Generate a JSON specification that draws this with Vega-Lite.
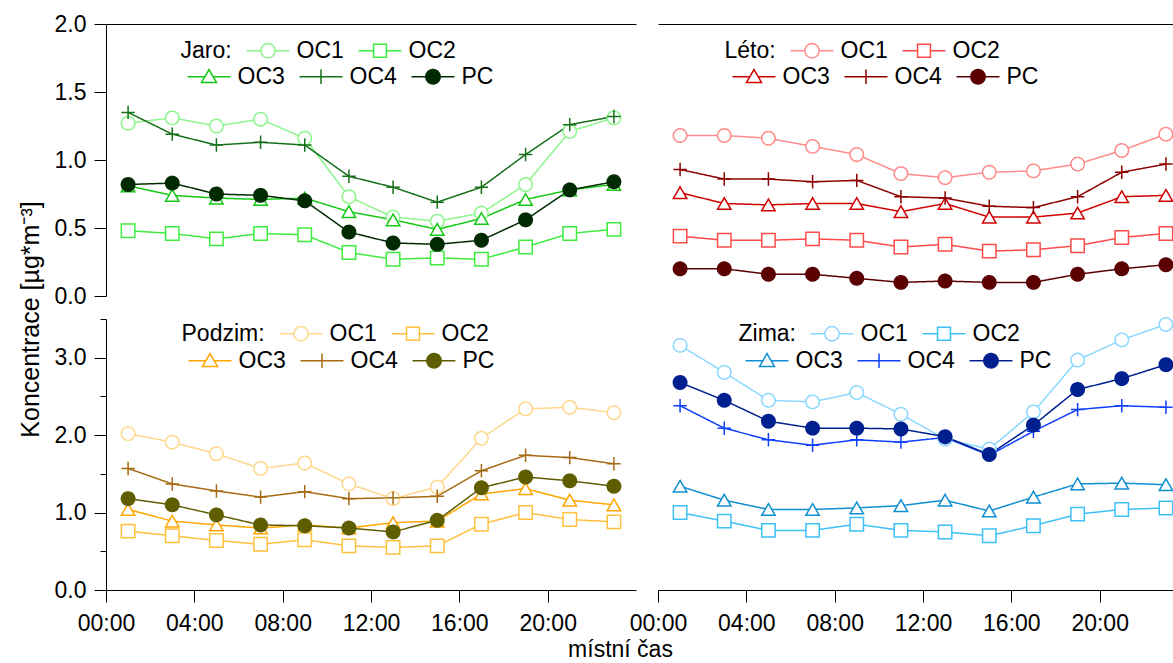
{
 "$schema": "https://vega.github.io/schema/vega-lite/v6.json",
 "padding": {"left": 18, "top": 13, "right": 0, "bottom": 0},
 "background": "white",
 "datasets": {
  "jaro": [
   {"s":"OC1","h":1,"v":1.27},{"s":"OC1","h":3,"v":1.31},{"s":"OC1","h":5,"v":1.25},{"s":"OC1","h":7,"v":1.30},{"s":"OC1","h":9,"v":1.16},{"s":"OC1","h":11,"v":0.73},{"s":"OC1","h":13,"v":0.58},{"s":"OC1","h":15,"v":0.55},{"s":"OC1","h":17,"v":0.61},{"s":"OC1","h":19,"v":0.82},{"s":"OC1","h":21,"v":1.21},{"s":"OC1","h":23,"v":1.31},
   {"s":"OC2","h":1,"v":0.48},{"s":"OC2","h":3,"v":0.46},{"s":"OC2","h":5,"v":0.42},{"s":"OC2","h":7,"v":0.46},{"s":"OC2","h":9,"v":0.45},{"s":"OC2","h":11,"v":0.32},{"s":"OC2","h":13,"v":0.27},{"s":"OC2","h":15,"v":0.28},{"s":"OC2","h":17,"v":0.27},{"s":"OC2","h":19,"v":0.36},{"s":"OC2","h":21,"v":0.46},{"s":"OC2","h":23,"v":0.49},
   {"s":"OC3","h":1,"v":0.81},{"s":"OC3","h":3,"v":0.74},{"s":"OC3","h":5,"v":0.72},{"s":"OC3","h":7,"v":0.71},{"s":"OC3","h":9,"v":0.72},{"s":"OC3","h":11,"v":0.62},{"s":"OC3","h":13,"v":0.56},{"s":"OC3","h":15,"v":0.49},{"s":"OC3","h":17,"v":0.57},{"s":"OC3","h":19,"v":0.71},{"s":"OC3","h":21,"v":0.78},{"s":"OC3","h":23,"v":0.82},
   {"s":"OC4","h":1,"v":1.35},{"s":"OC4","h":3,"v":1.19},{"s":"OC4","h":5,"v":1.11},{"s":"OC4","h":7,"v":1.13},{"s":"OC4","h":9,"v":1.11},{"s":"OC4","h":11,"v":0.88},{"s":"OC4","h":13,"v":0.80},{"s":"OC4","h":15,"v":0.69},{"s":"OC4","h":17,"v":0.80},{"s":"OC4","h":19,"v":1.04},{"s":"OC4","h":21,"v":1.26},{"s":"OC4","h":23,"v":1.32},
   {"s":"PC","h":1,"v":0.82},{"s":"PC","h":3,"v":0.83},{"s":"PC","h":5,"v":0.75},{"s":"PC","h":7,"v":0.74},{"s":"PC","h":9,"v":0.70},{"s":"PC","h":11,"v":0.47},{"s":"PC","h":13,"v":0.39},{"s":"PC","h":15,"v":0.38},{"s":"PC","h":17,"v":0.41},{"s":"PC","h":19,"v":0.56},{"s":"PC","h":21,"v":0.78},{"s":"PC","h":23,"v":0.84}
  ],
  "leto": [
   {"s":"OC1","h":1,"v":1.18},{"s":"OC1","h":3,"v":1.18},{"s":"OC1","h":5,"v":1.16},{"s":"OC1","h":7,"v":1.10},{"s":"OC1","h":9,"v":1.04},{"s":"OC1","h":11,"v":0.90},{"s":"OC1","h":13,"v":0.87},{"s":"OC1","h":15,"v":0.91},{"s":"OC1","h":17,"v":0.92},{"s":"OC1","h":19,"v":0.97},{"s":"OC1","h":21,"v":1.07},{"s":"OC1","h":23,"v":1.19},
   {"s":"OC2","h":1,"v":0.44},{"s":"OC2","h":3,"v":0.41},{"s":"OC2","h":5,"v":0.41},{"s":"OC2","h":7,"v":0.42},{"s":"OC2","h":9,"v":0.41},{"s":"OC2","h":11,"v":0.36},{"s":"OC2","h":13,"v":0.38},{"s":"OC2","h":15,"v":0.33},{"s":"OC2","h":17,"v":0.34},{"s":"OC2","h":19,"v":0.37},{"s":"OC2","h":21,"v":0.43},{"s":"OC2","h":23,"v":0.46},
   {"s":"OC3","h":1,"v":0.76},{"s":"OC3","h":3,"v":0.68},{"s":"OC3","h":5,"v":0.67},{"s":"OC3","h":7,"v":0.68},{"s":"OC3","h":9,"v":0.68},{"s":"OC3","h":11,"v":0.62},{"s":"OC3","h":13,"v":0.68},{"s":"OC3","h":15,"v":0.58},{"s":"OC3","h":17,"v":0.58},{"s":"OC3","h":19,"v":0.61},{"s":"OC3","h":21,"v":0.73},{"s":"OC3","h":23,"v":0.74},
   {"s":"OC4","h":1,"v":0.93},{"s":"OC4","h":3,"v":0.86},{"s":"OC4","h":5,"v":0.86},{"s":"OC4","h":7,"v":0.84},{"s":"OC4","h":9,"v":0.85},{"s":"OC4","h":11,"v":0.73},{"s":"OC4","h":13,"v":0.72},{"s":"OC4","h":15,"v":0.66},{"s":"OC4","h":17,"v":0.65},{"s":"OC4","h":19,"v":0.73},{"s":"OC4","h":21,"v":0.91},{"s":"OC4","h":23,"v":0.97},
   {"s":"PC","h":1,"v":0.20},{"s":"PC","h":3,"v":0.20},{"s":"PC","h":5,"v":0.16},{"s":"PC","h":7,"v":0.16},{"s":"PC","h":9,"v":0.13},{"s":"PC","h":11,"v":0.10},{"s":"PC","h":13,"v":0.11},{"s":"PC","h":15,"v":0.10},{"s":"PC","h":17,"v":0.10},{"s":"PC","h":19,"v":0.16},{"s":"PC","h":21,"v":0.20},{"s":"PC","h":23,"v":0.23}
  ],
  "podzim": [
   {"s":"OC1","h":1,"v":2.02},{"s":"OC1","h":3,"v":1.91},{"s":"OC1","h":5,"v":1.76},{"s":"OC1","h":7,"v":1.57},{"s":"OC1","h":9,"v":1.64},{"s":"OC1","h":11,"v":1.37},{"s":"OC1","h":13,"v":1.18},{"s":"OC1","h":15,"v":1.33},{"s":"OC1","h":17,"v":1.96},{"s":"OC1","h":19,"v":2.34},{"s":"OC1","h":21,"v":2.36},{"s":"OC1","h":23,"v":2.29},
   {"s":"OC2","h":1,"v":0.76},{"s":"OC2","h":3,"v":0.70},{"s":"OC2","h":5,"v":0.64},{"s":"OC2","h":7,"v":0.59},{"s":"OC2","h":9,"v":0.65},{"s":"OC2","h":11,"v":0.57},{"s":"OC2","h":13,"v":0.55},{"s":"OC2","h":15,"v":0.57},{"s":"OC2","h":17,"v":0.85},{"s":"OC2","h":19,"v":1.00},{"s":"OC2","h":21,"v":0.91},{"s":"OC2","h":23,"v":0.88},
   {"s":"OC3","h":1,"v":1.04},{"s":"OC3","h":3,"v":0.89},{"s":"OC3","h":5,"v":0.84},{"s":"OC3","h":7,"v":0.80},{"s":"OC3","h":9,"v":0.84},{"s":"OC3","h":11,"v":0.80},{"s":"OC3","h":13,"v":0.87},{"s":"OC3","h":15,"v":0.89},{"s":"OC3","h":17,"v":1.24},{"s":"OC3","h":19,"v":1.31},{"s":"OC3","h":21,"v":1.16},{"s":"OC3","h":23,"v":1.10},
   {"s":"OC4","h":1,"v":1.57},{"s":"OC4","h":3,"v":1.37},{"s":"OC4","h":5,"v":1.28},{"s":"OC4","h":7,"v":1.20},{"s":"OC4","h":9,"v":1.27},{"s":"OC4","h":11,"v":1.18},{"s":"OC4","h":13,"v":1.19},{"s":"OC4","h":15,"v":1.21},{"s":"OC4","h":17,"v":1.54},{"s":"OC4","h":19,"v":1.74},{"s":"OC4","h":21,"v":1.71},{"s":"OC4","h":23,"v":1.63},
   {"s":"PC","h":1,"v":1.18},{"s":"PC","h":3,"v":1.10},{"s":"PC","h":5,"v":0.97},{"s":"PC","h":7,"v":0.84},{"s":"PC","h":9,"v":0.83},{"s":"PC","h":11,"v":0.80},{"s":"PC","h":13,"v":0.75},{"s":"PC","h":15,"v":0.90},{"s":"PC","h":17,"v":1.32},{"s":"PC","h":19,"v":1.46},{"s":"PC","h":21,"v":1.41},{"s":"PC","h":23,"v":1.34}
  ],
  "zima": [
   {"s":"OC1","h":1,"v":3.16},{"s":"OC1","h":3,"v":2.81},{"s":"OC1","h":5,"v":2.45},{"s":"OC1","h":7,"v":2.43},{"s":"OC1","h":9,"v":2.55},{"s":"OC1","h":11,"v":2.27},{"s":"OC1","h":13,"v":1.95},{"s":"OC1","h":15,"v":1.82},{"s":"OC1","h":17,"v":2.30},{"s":"OC1","h":19,"v":2.97},{"s":"OC1","h":21,"v":3.23},{"s":"OC1","h":23,"v":3.43},
   {"s":"OC2","h":1,"v":1.00},{"s":"OC2","h":3,"v":0.89},{"s":"OC2","h":5,"v":0.77},{"s":"OC2","h":7,"v":0.77},{"s":"OC2","h":9,"v":0.85},{"s":"OC2","h":11,"v":0.77},{"s":"OC2","h":13,"v":0.75},{"s":"OC2","h":15,"v":0.70},{"s":"OC2","h":17,"v":0.83},{"s":"OC2","h":19,"v":0.98},{"s":"OC2","h":21,"v":1.04},{"s":"OC2","h":23,"v":1.06},
   {"s":"OC3","h":1,"v":1.34},{"s":"OC3","h":3,"v":1.16},{"s":"OC3","h":5,"v":1.04},{"s":"OC3","h":7,"v":1.04},{"s":"OC3","h":9,"v":1.06},{"s":"OC3","h":11,"v":1.09},{"s":"OC3","h":13,"v":1.16},{"s":"OC3","h":15,"v":1.02},{"s":"OC3","h":17,"v":1.20},{"s":"OC3","h":19,"v":1.37},{"s":"OC3","h":21,"v":1.38},{"s":"OC3","h":23,"v":1.36},
   {"s":"OC4","h":1,"v":2.38},{"s":"OC4","h":3,"v":2.09},{"s":"OC4","h":5,"v":1.94},{"s":"OC4","h":7,"v":1.87},{"s":"OC4","h":9,"v":1.94},{"s":"OC4","h":11,"v":1.91},{"s":"OC4","h":13,"v":1.97},{"s":"OC4","h":15,"v":1.74},{"s":"OC4","h":17,"v":2.05},{"s":"OC4","h":19,"v":2.33},{"s":"OC4","h":21,"v":2.38},{"s":"OC4","h":23,"v":2.36},
   {"s":"PC","h":1,"v":2.68},{"s":"PC","h":3,"v":2.45},{"s":"PC","h":5,"v":2.18},{"s":"PC","h":7,"v":2.09},{"s":"PC","h":9,"v":2.09},{"s":"PC","h":11,"v":2.08},{"s":"PC","h":13,"v":1.98},{"s":"PC","h":15,"v":1.75},{"s":"PC","h":17,"v":2.13},{"s":"PC","h":19,"v":2.59},{"s":"PC","h":21,"v":2.73},{"s":"PC","h":23,"v":2.91}
  ]
 },
 "columns": 2,
 "spacing": {"row": 23, "column": 22},
 "bounds": "flush",
 "concat": [
  {
   "width": 530, "height": 272,
   "data": {"name": "jaro"},
   "encoding": {
    "x": {"field": "h", "type": "quantitative", "scale": {"domain": [0, 24], "nice": false, "zero": false}, "axis": {"orient": "top", "ticks": false, "labels": false, "title": null, "domain": true}},
    "y": {"field": "v", "type": "quantitative", "scale": {"domain": [0, 2], "nice": false}, "axis": {"values": [0, 0.5, 1, 1.5, 2], "format": ".1f", "labelPadding": 8, "title": null}},
    "color": {"field": "s", "type": "nominal",
     "scale": {"domain": ["Jaro:", "OC1", "OC2", "OC3", "OC4", "PC"], "range": ["white", "#8cf58c", "#3ded3d", "#14c814", "#16701a", "#002a00"]},
     "legend": {"orient": "none", "legendX": 86, "legendY": 15, "direction": "horizontal", "columns": 3, "title": null, "values": ["Jaro:", "OC1", "OC2"],
      "symbolSize": 205, "symbolOffset": 2.5, "labelOffset": 17, "columnPadding": 11, "symbolFillColor": "white", "symbolStrokeWidth": 1.5,
      "labelFontSize": 23, "labelFont": "Liberation Sans", "labelColor": "black",
      "encode": {
       "symbols": {"update": {
        "shape": {"signal": "datum.value==='OC1'?'M-3,0H-1M1,0H3M1,0A1,1,0,1,1,-1,0A1,1,0,1,1,1,0Z':datum.value==='OC2'?'M-3,0H-0.9M0.9,0H3M-0.9,-0.9H0.9V0.9H-0.9Z':'M0,0'"},
        "size": {"signal": "datum.value==='Jaro:'?0:205"}
       }},
       "labels": {"update": {"dx": {"signal": "datum.value==='Jaro:'?-54:0"}}}
      }
     }
    },
    "strokeDash": {"field": "s", "type": "nominal",
     "scale": {"domain": ["OC3", "OC4", "PC", "OC1", "OC2"], "range": [[1, 0], [1, 0], [1, 0], [1, 0], [1, 0]]},
     "legend": {"orient": "none", "legendX": 89, "legendY": 41, "direction": "horizontal", "columns": 3, "title": null, "values": ["OC3", "OC4", "PC"],
      "symbolSize": 205, "symbolOffset": 2.5, "labelOffset": 17, "columnPadding": 11, "symbolStrokeWidth": 1.5,
      "labelFontSize": 23, "labelFont": "Liberation Sans", "labelColor": "black",
      "encode": {
       "symbols": {"update": {
        "shape": {"signal": "datum.value==='OC3'?'M-3,0H-0.58M0.58,0H3M0,-1L1.05,0.8H-1.05Z':datum.value==='OC4'?'M-3,0H3M0,-1V1':'M-3,0H-1M1,0H3M1,0A1,1,0,1,1,-1,0A1,1,0,1,1,1,0Z'"},
        "stroke": {"signal": "datum.value==='OC3'?'#14c814':datum.value==='OC4'?'#16701a':'#002a00'"},
        "fill": {"signal": "datum.value==='PC'?'#002a00':'white'"},
        "size": {"signal": "datum.value==='none'?0:205"}
       }}
      }
     }
    }
   },
   "layer": [
    {"mark": {"type": "line", "strokeWidth": 1.5}},
    {"mark": {"type": "point", "filled": false, "strokeWidth": 1.5, "size": 180, "opacity": 1},
     "encoding": {
      "shape": {"field": "s", "type": "nominal", "scale": {"domain": ["OC1", "OC2", "OC3", "OC4", "PC"], "range": ["circle", "square", "triangle-up", "M-1,0H1M0,-1V1", "circle"]}, "legend": null},
      "fill": {"field": "s", "type": "nominal", "scale": {"domain": ["OC1", "OC2", "OC3", "OC4", "PC"], "range": ["white", "white", "white", "white", "#002a00"]}, "legend": null}
     }}
   ]
  },
  {
   "width": 515, "height": 272,
   "data": {"name": "leto"},
   "encoding": {
    "x": {"field": "h", "type": "quantitative", "scale": {"domain": [0, 23.32], "nice": false, "zero": false}, "axis": {"orient": "top", "ticks": false, "labels": false, "title": null, "domain": true}},
    "y": {"field": "v", "type": "quantitative", "scale": {"domain": [0, 2], "nice": false}, "axis": null},
    "color": {"field": "s", "type": "nominal",
     "scale": {"domain": ["Léto:", "OC1", "OC2", "OC3", "OC4", "PC"], "range": ["white", "#ff8a8a", "#ff4a4a", "#d00000", "#8c0000", "#5a0000"]},
     "legend": {"orient": "none", "legendX": 78, "legendY": 15, "direction": "horizontal", "columns": 3, "title": null, "values": ["Léto:", "OC1", "OC2"],
      "symbolSize": 205, "symbolOffset": 2.5, "labelOffset": 17, "columnPadding": 11, "symbolFillColor": "white", "symbolStrokeWidth": 1.5,
      "labelFontSize": 23, "labelFont": "Liberation Sans", "labelColor": "black",
      "encode": {
       "symbols": {"update": {
        "shape": {"signal": "datum.value==='OC1'?'M-3,0H-1M1,0H3M1,0A1,1,0,1,1,-1,0A1,1,0,1,1,1,0Z':datum.value==='OC2'?'M-3,0H-0.9M0.9,0H3M-0.9,-0.9H0.9V0.9H-0.9Z':'M0,0'"},
        "size": {"signal": "datum.value==='Léto:'?0:205"}
       }},
       "labels": {"update": {"dx": {"signal": "datum.value==='Léto:'?-54:0"}}}
      }
     }
    },
    "strokeDash": {"field": "s", "type": "nominal",
     "scale": {"domain": ["OC3", "OC4", "PC", "OC1", "OC2"], "range": [[1, 0], [1, 0], [1, 0], [1, 0], [1, 0]]},
     "legend": {"orient": "none", "legendX": 82, "legendY": 41, "direction": "horizontal", "columns": 3, "title": null, "values": ["OC3", "OC4", "PC"],
      "symbolSize": 205, "symbolOffset": 2.5, "labelOffset": 17, "columnPadding": 11, "symbolStrokeWidth": 1.5,
      "labelFontSize": 23, "labelFont": "Liberation Sans", "labelColor": "black",
      "encode": {
       "symbols": {"update": {
        "shape": {"signal": "datum.value==='OC3'?'M-3,0H-0.58M0.58,0H3M0,-1L1.05,0.8H-1.05Z':datum.value==='OC4'?'M-3,0H3M0,-1V1':'M-3,0H-1M1,0H3M1,0A1,1,0,1,1,-1,0A1,1,0,1,1,1,0Z'"},
        "stroke": {"signal": "datum.value==='OC3'?'#d00000':datum.value==='OC4'?'#8c0000':'#5a0000'"},
        "fill": {"signal": "datum.value==='PC'?'#5a0000':'white'"},
        "size": {"signal": "datum.value==='none'?0:205"}
       }}
      }
     }
    }
   },
   "layer": [
    {"mark": {"type": "line", "strokeWidth": 1.5}},
    {"mark": {"type": "point", "filled": false, "strokeWidth": 1.5, "size": 180, "opacity": 1},
     "encoding": {
      "shape": {"field": "s", "type": "nominal", "scale": {"domain": ["OC1", "OC2", "OC3", "OC4", "PC"], "range": ["circle", "square", "triangle-up", "M-1,0H1M0,-1V1", "circle"]}, "legend": null},
      "fill": {"field": "s", "type": "nominal", "scale": {"domain": ["OC1", "OC2", "OC3", "OC4", "PC"], "range": ["white", "white", "white", "white", "#5a0000"]}, "legend": null}
     }}
   ]
  },
  {
   "width": 530, "height": 271,
   "data": {"name": "podzim"},
   "encoding": {
    "x": {"field": "h", "type": "quantitative", "scale": {"domain": [0, 24], "nice": false, "zero": false},
     "axis": {"values": [0, 4, 8, 12, 16, 20], "labelExpr": "(datum.value < 10 ? '0' : '') + datum.value + ':00'", "labelPadding": 10, "title": "místní čas", "titleX": 514, "titlePadding": 3}},
    "y": {"field": "v", "type": "quantitative", "scale": {"domain": [0, 3.5], "nice": false},
     "axis": {"values": [0, 0.5, 1, 1.5, 2, 2.5, 3, 3.5], "labelExpr": "datum.value % 1 === 0 ? format(datum.value, '.1f') : ''",
      "tickSize": {"condition": {"test": "datum.value % 1 !== 0", "value": 6}, "value": 12},
      "labelPadding": 8, "title": "Koncentrace [µg*m⁻³]", "titleFontSize": 25, "titlePadding": 11, "titleY": 0}},
    "color": {"field": "s", "type": "nominal",
     "scale": {"domain": ["Podzim:", "OC1", "OC2", "OC3", "OC4", "PC"], "range": ["white", "#ffd78a", "#ffc13d", "#ffa500", "#a56a12", "#5e5e00"]},
     "legend": {"orient": "none", "legendX": 87, "legendY": 3, "direction": "horizontal", "columns": 3, "title": null, "values": ["Podzim:", "OC1", "OC2"],
      "symbolSize": 205, "symbolOffset": 2.5, "labelOffset": 17, "columnPadding": 11, "symbolFillColor": "white", "symbolStrokeWidth": 1.5,
      "labelFontSize": 23, "labelFont": "Liberation Sans", "labelColor": "black",
      "encode": {
       "symbols": {"update": {
        "shape": {"signal": "datum.value==='OC1'?'M-3,0H-1M1,0H3M1,0A1,1,0,1,1,-1,0A1,1,0,1,1,1,0Z':datum.value==='OC2'?'M-3,0H-0.9M0.9,0H3M-0.9,-0.9H0.9V0.9H-0.9Z':'M0,0'"},
        "size": {"signal": "datum.value==='Podzim:'?0:205"}
       }},
       "labels": {"update": {"dx": {"signal": "datum.value==='Podzim:'?-54:0"}}}
      }
     }
    },
    "strokeDash": {"field": "s", "type": "nominal",
     "scale": {"domain": ["OC3", "OC4", "PC", "OC1", "OC2"], "range": [[1, 0], [1, 0], [1, 0], [1, 0], [1, 0]]},
     "legend": {"orient": "none", "legendX": 90, "legendY": 30, "direction": "horizontal", "columns": 3, "title": null, "values": ["OC3", "OC4", "PC"],
      "symbolSize": 205, "symbolOffset": 2.5, "labelOffset": 17, "columnPadding": 11, "symbolStrokeWidth": 1.5,
      "labelFontSize": 23, "labelFont": "Liberation Sans", "labelColor": "black",
      "encode": {
       "symbols": {"update": {
        "shape": {"signal": "datum.value==='OC3'?'M-3,0H-0.58M0.58,0H3M0,-1L1.05,0.8H-1.05Z':datum.value==='OC4'?'M-3,0H3M0,-1V1':'M-3,0H-1M1,0H3M1,0A1,1,0,1,1,-1,0A1,1,0,1,1,1,0Z'"},
        "stroke": {"signal": "datum.value==='OC3'?'#ffa500':datum.value==='OC4'?'#a56a12':'#5e5e00'"},
        "fill": {"signal": "datum.value==='PC'?'#5e5e00':'white'"},
        "size": {"signal": "datum.value==='none'?0:205"}
       }}
      }
     }
    }
   },
   "layer": [
    {"mark": {"type": "line", "strokeWidth": 1.5}},
    {"mark": {"type": "point", "filled": false, "strokeWidth": 1.5, "size": 180, "opacity": 1},
     "encoding": {
      "shape": {"field": "s", "type": "nominal", "scale": {"domain": ["OC1", "OC2", "OC3", "OC4", "PC"], "range": ["circle", "square", "triangle-up", "M-1,0H1M0,-1V1", "circle"]}, "legend": null},
      "fill": {"field": "s", "type": "nominal", "scale": {"domain": ["OC1", "OC2", "OC3", "OC4", "PC"], "range": ["white", "white", "white", "white", "#5e5e00"]}, "legend": null}
     }}
   ]
  },
  {
   "width": 515, "height": 271,
   "data": {"name": "zima"},
   "encoding": {
    "x": {"field": "h", "type": "quantitative", "scale": {"domain": [0, 23.32], "nice": false, "zero": false},
     "axis": {"values": [0, 4, 8, 12, 16, 20], "labelExpr": "(datum.value < 10 ? '0' : '') + datum.value + ':00'", "labelPadding": 10, "title": null}},
    "y": {"field": "v", "type": "quantitative", "scale": {"domain": [0, 3.5], "nice": false}, "axis": null},
    "color": {"field": "s", "type": "nominal",
     "scale": {"domain": ["Zima:", "OC1", "OC2", "OC3", "OC4", "PC"], "range": ["white", "#8ad8ff", "#3dc0f5", "#0e8fcf", "#1040ff", "#00208f"]},
     "legend": {"orient": "none", "legendX": 92, "legendY": 3, "direction": "horizontal", "columns": 3, "title": null, "values": ["Zima:", "OC1", "OC2"],
      "symbolSize": 205, "symbolOffset": 2.5, "labelOffset": 17, "columnPadding": 11, "symbolFillColor": "white", "symbolStrokeWidth": 1.5,
      "labelFontSize": 23, "labelFont": "Liberation Sans", "labelColor": "black",
      "encode": {
       "symbols": {"update": {
        "shape": {"signal": "datum.value==='OC1'?'M-3,0H-1M1,0H3M1,0A1,1,0,1,1,-1,0A1,1,0,1,1,1,0Z':datum.value==='OC2'?'M-3,0H-0.9M0.9,0H3M-0.9,-0.9H0.9V0.9H-0.9Z':'M0,0'"},
        "size": {"signal": "datum.value==='Zima:'?0:205"}
       }},
       "labels": {"update": {"dx": {"signal": "datum.value==='Zima:'?-54:0"}}}
      }
     }
    },
    "strokeDash": {"field": "s", "type": "nominal",
     "scale": {"domain": ["OC3", "OC4", "PC", "OC1", "OC2"], "range": [[1, 0], [1, 0], [1, 0], [1, 0], [1, 0]]},
     "legend": {"orient": "none", "legendX": 95, "legendY": 30, "direction": "horizontal", "columns": 3, "title": null, "values": ["OC3", "OC4", "PC"],
      "symbolSize": 205, "symbolOffset": 2.5, "labelOffset": 17, "columnPadding": 11, "symbolStrokeWidth": 1.5,
      "labelFontSize": 23, "labelFont": "Liberation Sans", "labelColor": "black",
      "encode": {
       "symbols": {"update": {
        "shape": {"signal": "datum.value==='OC3'?'M-3,0H-0.58M0.58,0H3M0,-1L1.05,0.8H-1.05Z':datum.value==='OC4'?'M-3,0H3M0,-1V1':'M-3,0H-1M1,0H3M1,0A1,1,0,1,1,-1,0A1,1,0,1,1,1,0Z'"},
        "stroke": {"signal": "datum.value==='OC3'?'#0e8fcf':datum.value==='OC4'?'#1040ff':'#00208f'"},
        "fill": {"signal": "datum.value==='PC'?'#00208f':'white'"},
        "size": {"signal": "datum.value==='none'?0:205"}
       }}
      }
     }
    }
   },
   "layer": [
    {"mark": {"type": "line", "strokeWidth": 1.5}},
    {"mark": {"type": "point", "filled": false, "strokeWidth": 1.5, "size": 180, "opacity": 1},
     "encoding": {
      "shape": {"field": "s", "type": "nominal", "scale": {"domain": ["OC1", "OC2", "OC3", "OC4", "PC"], "range": ["circle", "square", "triangle-up", "M-1,0H1M0,-1V1", "circle"]}, "legend": null},
      "fill": {"field": "s", "type": "nominal", "scale": {"domain": ["OC1", "OC2", "OC3", "OC4", "PC"], "range": ["white", "white", "white", "white", "#00208f"]}, "legend": null}
     }}
   ]
  }
 ],
 "resolve": {"scale": {"x": "independent", "y": "independent", "color": "independent", "shape": "independent", "fill": "independent", "strokeDash": "independent"}, "legend": {"color": "independent", "shape": "independent", "fill": "independent", "strokeDash": "independent"}},
 "config": {
  "view": {"stroke": null},
  "font": "Liberation Sans",
  "axis": {"labelFont": "Liberation Sans", "labelFontSize": 23, "labelColor": "black", "domainColor": "black", "domainWidth": 1, "tickColor": "black", "tickWidth": 1, "tickSize": 12, "titleFont": "Liberation Sans", "titleFontSize": 23, "titleFontWeight": "normal", "titleColor": "black", "grid": false, "labelFlush": false, "labelOverlap": false}
 }
}
